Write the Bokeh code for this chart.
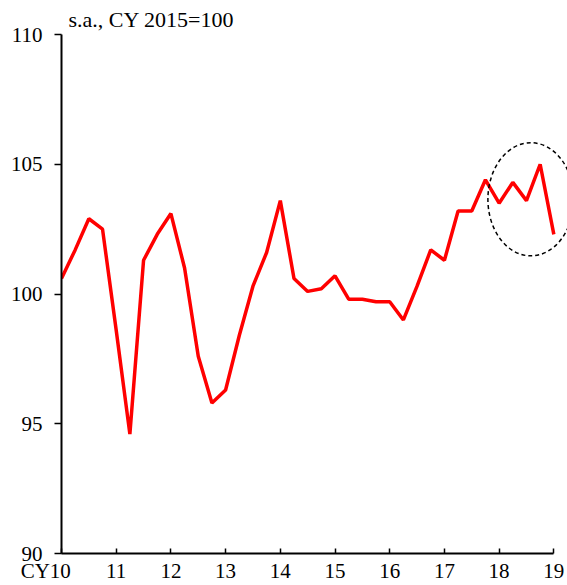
from bokeh.plotting import figure
from bokeh.models import FixedTicker, Range1d
from bokeh.embed import file_html
from bokeh.resources import INLINE

# Quarterly index, 2010Q1 .. 2019Q1 (s.a., CY2015=100)
years = list(range(2010, 2020))
quarters = [2010 + i / 4 for i in range(37)]
values = [100.6, 101.7, 102.9, 102.5,
          98.6, 94.6, 101.3, 102.3,
          103.1, 101.0, 97.6, 95.8,
          96.3, 98.4, 100.3, 101.6,
          103.6, 100.6, 100.1, 100.2,
          100.7, 99.8, 99.8, 99.7,
          99.7, 99.0, 100.3, 101.7,
          101.3, 103.2, 103.2, 104.4,
          103.5, 104.3, 103.6, 105.0,
          102.3]
# figure spaces after "CY10" keep the "10" centred under its tick
tick_labels = ["CY10\u2007\u2007\u2007", "11", "12", "13", "14", "15", "16", "17", "18", "19"]
y_ticks = [90, 95, 100, 105, 110]

FONT = "Liberation Serif"

p = figure(width=567, height=585, output_backend="svg", toolbar_location=None,
           x_range=Range1d(2010, 2019.25), y_range=Range1d(90, 110),
           min_border_left=61, min_border_right=0, min_border_top=34,
           min_border_bottom=32)
p.title.text = "s.a., CY 2015=100"
p.title.text_font = FONT
p.title.text_font_size = "22px"
p.title.text_font_style = "normal"
p.title.text_color = "black"
p.title.offset = 7
p.title.standoff = 5
p.outline_line_color = None
p.xgrid.grid_line_color = None
p.ygrid.grid_line_color = None

p.line(quarters, values, line_color="#ff0000", line_width=3.5)

# dashed ellipse around the last five quarters
hx = quarters[-5:]
hy = values[-5:]
cx = (min(hx) + max(hx)) / 2 + 0.08
cy = (min(hy) + max(hy)) / 2
p.ellipse(x=[cx], y=[cy], width=[(max(hx) - min(hx)) + 0.57],
          height=[(max(hy) - min(hy)) + 1.66],
          fill_color=None, line_color="black", line_width=1.5, line_dash="4 3")

xa = p.xaxis[0]
xa.ticker = FixedTicker(ticks=years)
xa.major_label_overrides = {y: t for y, t in zip(years, tick_labels)}
xa.bounds = (2010, 2019)
xa.axis_line_color = "black"
xa.major_tick_line_color = "black"
xa.major_tick_in = 5
xa.major_tick_out = 0
xa.minor_tick_line_color = None
xa.axis_line_width = 2
xa.major_tick_line_width = 1.5
xa.major_label_standoff = 5
xa.major_label_text_font = FONT
xa.major_label_text_font_size = "21px"
xa.major_label_text_color = "black"

ya = p.yaxis[0]
ya.ticker = FixedTicker(ticks=y_ticks)
ya.axis_line_color = "black"
ya.major_tick_line_color = "black"
ya.major_tick_in = 0
ya.major_tick_out = 7
ya.minor_tick_line_color = None
ya.axis_line_width = 2
ya.major_tick_line_width = 1.5
ya.major_label_standoff = 12
ya.major_label_text_font = FONT
ya.major_label_text_font_size = "21px"
ya.major_label_text_color = "black"

open("out.html", "w").write(file_html(p, INLINE))
